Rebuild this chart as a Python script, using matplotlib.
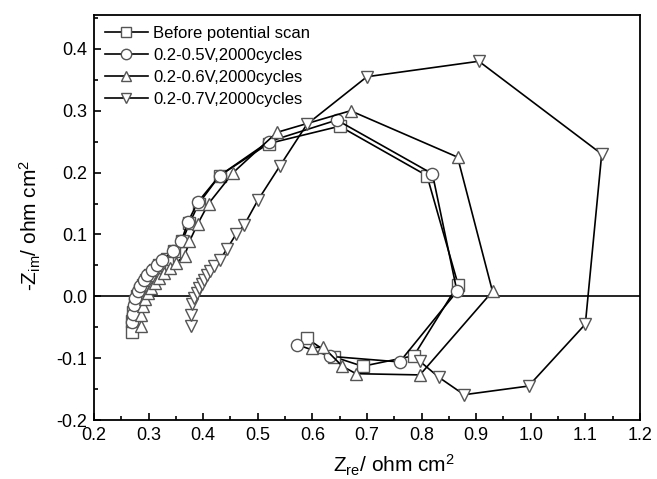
import matplotlib
matplotlib.use("Agg")
import matplotlib.pyplot as plt
from matplotlib.ticker import MultipleLocator, FormatStrFormatter

plt.rcParams["font.family"] = ["Liberation Sans", "DejaVu Sans"]
plt.rcParams["mathtext.default"] = "regular"

# Nyquist data (Z_re, -Z_im in ohm cm^2)
before_x = [0.270, 0.270, 0.272, 0.275, 0.279, 0.284, 0.290, 0.296, 0.303, 0.311, 0.320, 0.333,
            0.347, 0.362, 0.375, 0.392, 0.430, 0.520, 0.650, 0.810, 0.867, 0.786, 0.692, 0.640, 0.590]
before_y = [-0.058, -0.040, -0.025, -0.012, 0.000, 0.010, 0.019, 0.027, 0.035, 0.042, 0.050, 0.060,
            0.073, 0.090, 0.118, 0.150, 0.195, 0.247, 0.275, 0.195, 0.019, -0.096, -0.113, -0.098, -0.068]

v05_x = [0.270, 0.271, 0.273, 0.276, 0.280, 0.285, 0.291, 0.298, 0.306, 0.315, 0.325, 0.344,
         0.360, 0.372, 0.390, 0.430, 0.520, 0.645, 0.820, 0.865, 0.760, 0.633, 0.572]
v05_y = [-0.042, -0.028, -0.014, -0.003, 0.008, 0.017, 0.026, 0.034, 0.042, 0.050, 0.058, 0.073,
         0.089, 0.120, 0.152, 0.195, 0.250, 0.285, 0.198, 0.008, -0.106, -0.097, -0.078]

v06_x = [0.287, 0.287, 0.290, 0.294, 0.299, 0.305, 0.312, 0.320, 0.329, 0.339, 0.350, 0.366,
         0.375, 0.390, 0.410, 0.455, 0.535, 0.670, 0.866, 0.930, 0.797, 0.680, 0.655, 0.620, 0.600]
v06_y = [-0.048, -0.030, -0.016, -0.005, 0.005, 0.014, 0.022, 0.030, 0.038, 0.046, 0.054, 0.065,
         0.089, 0.117, 0.150, 0.200, 0.265, 0.300, 0.225, 0.008, -0.127, -0.125, -0.113, -0.082, -0.083]

v07_x = [0.378, 0.378, 0.380, 0.384, 0.388, 0.392, 0.397, 0.402, 0.407, 0.413, 0.420, 0.430,
         0.443, 0.460, 0.475, 0.500, 0.540, 0.590, 0.700, 0.905, 1.130, 1.100, 0.996, 0.878,
         0.832, 0.797]
v07_y = [-0.048, -0.030, -0.012, -0.002, 0.006, 0.013, 0.020, 0.027, 0.034, 0.041, 0.049, 0.058,
         0.076, 0.100, 0.115, 0.155, 0.210, 0.278, 0.355, 0.380, 0.230, -0.045, -0.145, -0.159,
         -0.131, -0.105]

series = [
    (before_x, before_y, "s", "Before potential scan"),
    (v05_x, v05_y, "o", "0.2-0.5V,2000cycles"),
    (v06_x, v06_y, "^", "0.2-0.6V,2000cycles"),
    (v07_x, v07_y, "v", "0.2-0.7V,2000cycles"),
]

fig = plt.figure(figsize=(6.57, 4.79), dpi=100)
ax = fig.add_axes([0.143, 0.123, 0.831, 0.846])

ax.axhline(0, color="black", lw=1.2, zorder=1)
for x, y, m, label in series:
    ax.plot(x, y, color="black", lw=1.2, marker=m, markersize=8.8,
            markerfacecolor="white", markeredgecolor="#555555", markeredgewidth=1.0,
            label=label, zorder=2)

ax.set_xlim(0.2, 1.2)
ax.set_ylim(-0.2, 0.455)
ax.xaxis.set_major_locator(MultipleLocator(0.1))
ax.xaxis.set_minor_locator(MultipleLocator(0.05))
ax.yaxis.set_major_locator(MultipleLocator(0.1))
ax.yaxis.set_minor_locator(MultipleLocator(0.05))
ax.xaxis.set_major_formatter(FormatStrFormatter("%.1f"))
ax.yaxis.set_major_formatter(FormatStrFormatter("%.1f"))
ax.tick_params(which="both", direction="in", top=False, right=False, labelsize=13, width=1.2)
ax.tick_params(which="major", length=5, pad=5)
ax.tick_params(which="minor", length=3)
for sp in ax.spines.values():
    sp.set_linewidth(1.3)

ax.set_xlabel("Z$_{re}$/ ohm cm$^2$", fontsize=15, va="center")
ax.xaxis.set_label_coords(0.55, -0.111)
ax.set_ylabel("-Z$_{im}$/ ohm cm$^2$", fontsize=15, va="center")
ax.yaxis.set_label_coords(-0.116, 0.48)

ax.legend(loc="upper left", frameon=False, fontsize=12, handlelength=2.6,
          handletextpad=0.3, labelspacing=0.42, borderaxespad=0.1, borderpad=0.55,
          markerscale=0.85)

fig.savefig("out.png", dpi=100)
